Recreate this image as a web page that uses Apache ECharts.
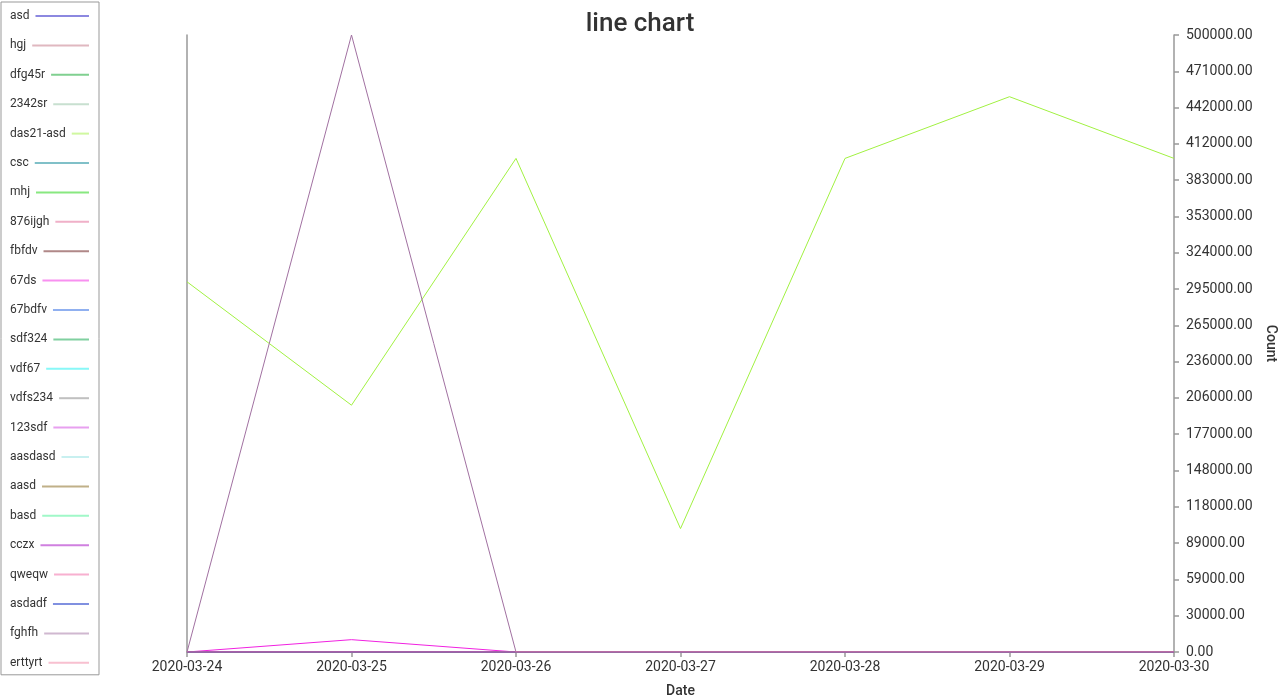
<!DOCTYPE html>
<html>
<head>
<meta charset="utf-8">
<script src="https://cdn.jsdelivr.net/npm/echarts@6/dist/echarts.min.js"></script>
<style>
html,body{margin:0;padding:0;background:#fff;}
#chart{width:1280px;height:700px;}
</style>
</head>
<body>
<div id="chart"></div>
<script>
const categories = ['2020-03-24','2020-03-25','2020-03-26','2020-03-27','2020-03-28','2020-03-29','2020-03-30'];
const seriesNames = ['asd','hgj','dfg45r','2342sr','das21-asd','csc','mhj','876ijgh','fbfdv','67ds','67bdfv','sdf324','vdf67','vdfs234','123sdf','aasdasd','aasd','basd','cczx','qweqw','asdadf','fghfh','erttyrt'];
const seriesColors = ['#1a12c2','#c17181','#01a121','#91c1a1','#a1f141','#018191','#11d101','#e16191','#611111','#f121e1','#2161e1','#01a141','#11f1f1','#818181','#d141e1','#91e1e1','#816111','#41f191','#a101c1','#f161a1','#0121c1','#a171a1','#f181a1'];
const zeroValues = [0,0,0,0,0,0,0];
const das21Values = [300000,200000,400000,100000,400000,450000,400000];
const ds67Values = [0,10000,0,0,0,0,0];
const fghfhValues = [0,500000,0,0,0,0,0];
const specialValues = {'das21-asd': das21Values, '67ds': ds67Values, 'fghfh': fghfhValues};
const yMax = 500000;
const yInterval = 500000 / 17;

function hexToRgba(hex, a){
  const n = parseInt(hex.slice(1),16);
  return 'rgba(' + ((n>>16)&255) + ',' + ((n>>8)&255) + ',' + (n&255) + ',' + a + ')';
}

const cv = document.createElement('canvas').getContext('2d');
cv.font = '12px Roboto';
const rich = { t: {fontSize: 12, color: '#333', fontFamily: 'Roboto', lineHeight: 14}, p: {width: 6, height: 2} };
seriesNames.forEach(function(name, i){
  const w = Math.max(8, 79 - cv.measureText(name).width - 6);
  rich['g' + i] = {width: w, height: 2, backgroundColor: hexToRgba(seriesColors[i], 0.5)};
});

const chart = echarts.init(document.getElementById('chart'));
const option = {
  animation: false,
  textStyle: {fontFamily: 'Roboto'},
  color: seriesColors,
  title: {
    text: 'line chart', left: 'center', top: 6,
    textStyle: {fontSize: 26, fontWeight: 500, color: '#333', fontFamily: 'Roboto'}
  },
  legend: {
    orient: 'vertical', left: 1, top: 2,
    padding: [7, 10, 5, 4],
    itemGap: 15.4, itemWidth: 0, itemHeight: 14,
    icon: 'rect',
    borderColor: '#999', borderWidth: 1,
    data: seriesNames,
    formatter: function(name){ return '{t|' + name + '}{p|}{g' + seriesNames.indexOf(name) + '|}'; },
    textStyle: {rich: rich}
  },
  grid: {left: 187, right: 106, top: 35, bottom: 48, containLabel: false, outerBoundsMode: 'none'},
  xAxis: {
    type: 'category', boundaryGap: false, data: categories,
    axisLine: {lineStyle: {color: '#999', width: 1.5}},
    axisTick: {show: true, length: 5, lineStyle: {color: '#999', width: 1.5}},
    axisLabel: {fontSize: 14, color: '#333', margin: 8},
    splitLine: {show: false},
    name: 'Date', nameLocation: 'middle', nameGap: 32,
    nameTextStyle: {fontSize: 14, color: '#333', fontWeight: 500}
  },
  yAxis: [{
    type: 'value', position: 'right', min: 0, max: yMax, interval: yInterval,
    axisLine: {show: true, lineStyle: {color: '#999', width: 1.5}},
    axisTick: {show: true, length: 5, lineStyle: {color: '#999', width: 1.5}},
    axisLabel: {fontSize: 14, color: '#333', margin: 12,
      formatter: function(v){ return (Math.ceil(v / 1000 - 1e-6) * 1000).toFixed(2); }},
    splitLine: {show: false},
    name: 'Count', nameLocation: 'middle', nameRotate: -90, nameGap: 79,
    nameTextStyle: {fontSize: 14, color: '#333', fontWeight: 500}
  }, {
    type: 'value', position: 'left', min: 0, max: yMax, interval: yInterval,
    axisLine: {show: true, lineStyle: {color: '#999', width: 1.5}},
    axisTick: {show: false}, axisLabel: {show: false}, splitLine: {show: false}
  }],
  series: seriesNames.map(function(name, i){
    return {
      name: name, type: 'line', yAxisIndex: 0, symbol: 'none', showSymbol: false,
      lineStyle: {width: 1, color: seriesColors[i]},
      itemStyle: {color: seriesColors[i]},
      data: specialValues[name] || zeroValues
    };
  })
};
chart.setOption(option);
</script>
</body>
</html>
